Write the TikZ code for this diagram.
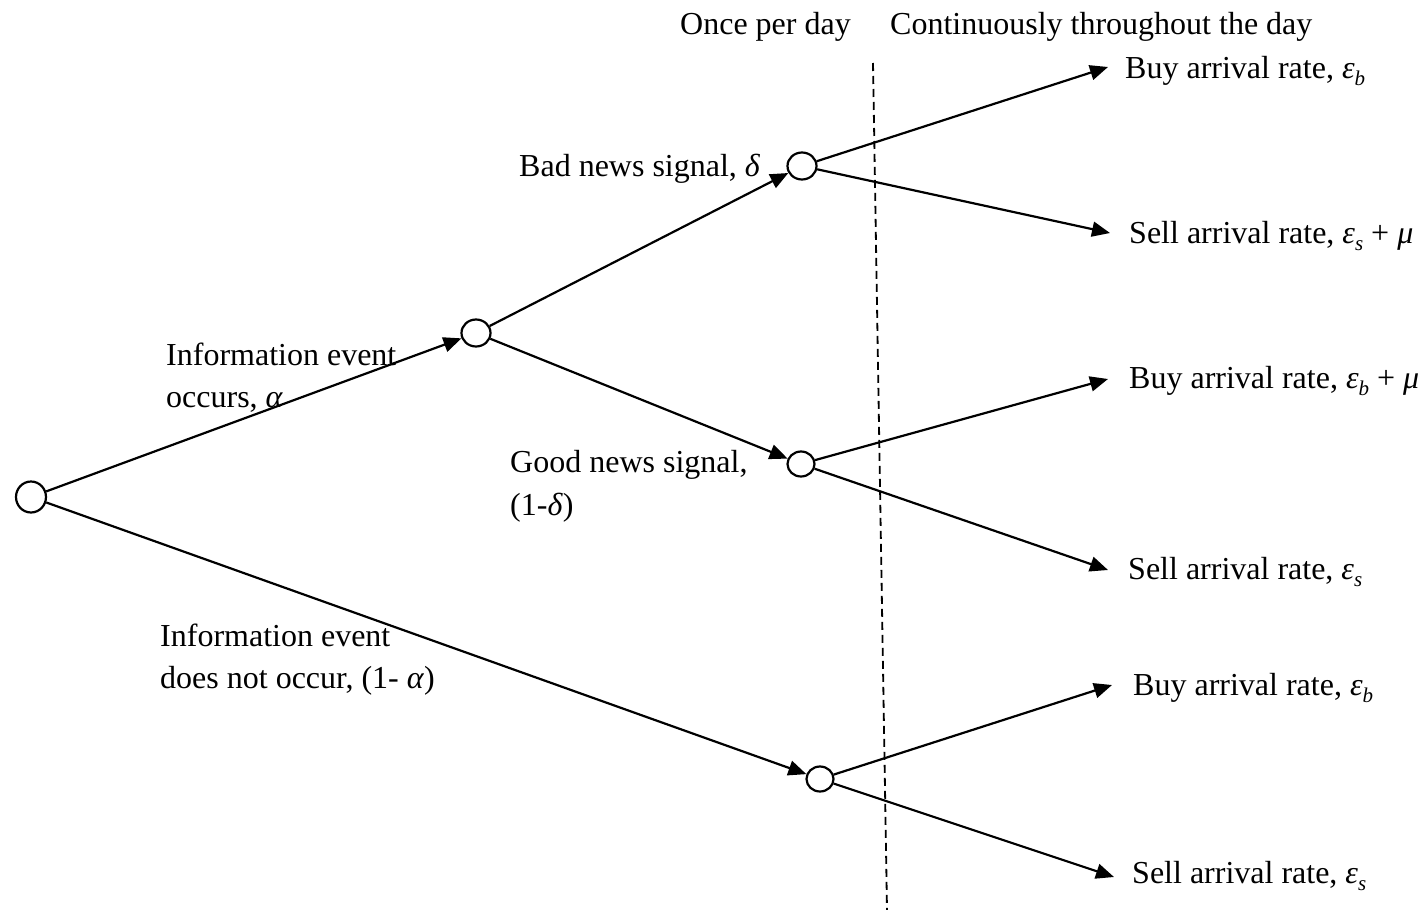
\documentclass[tikz,border=0pt]{standalone}
\usepackage{fontspec}
\setmainfont{Liberation Serif}
\usetikzlibrary{arrows.meta,shapes.geometric}
\newcommand\lsub[1]{\raisebox{-0.22em}{\fontsize{21}{21}\selectfont\itshape #1}}
\begin{document}
\begin{tikzpicture}[x=1pt,y=-1pt,
  every node/.style={font=\fontsize{32}{38}\selectfont},
  state/.style={draw,ellipse,line width=2.2pt,minimum width=29pt,minimum height=27pt,inner sep=0pt},
  lbl/.style={anchor=base west,inner sep=0pt},
  conn/.style={line width=2.2pt,-{Triangle[length=18pt,width=15pt]}},
  divider/.style={line width=1.8pt,dash pattern=on 8pt off 5pt}
  ]
\useasboundingbox (0,0) rectangle (1424,910);
% states
\node[state,minimum width=30pt,minimum height=31pt] (root) at (31,497) {};
\node[state] (n1) at (476,333) {};
\node[state] (bad) at (802,166) {};
\node[state,minimum width=27pt,minimum height=25pt] (good) at (801,464) {};
\node[state,minimum width=27pt,minimum height=25pt] (no) at (820,779) {};
% arrow tips near outcome labels
\coordinate (t1) at (1108,67);
\coordinate (t2) at (1110,233);
\coordinate (t3) at (1108,379);
\coordinate (t4) at (1108,570);
\coordinate (t5) at (1112,685);
\coordinate (t6) at (1114,877);
% divider
\coordinate (dtop) at (873,63);
\coordinate (dbot) at (887,910);
\draw[divider] (dtop) -- (dbot);
% connectors
\draw[conn] (root) -- (n1);
\draw[conn] (root) -- (no);
\draw[conn] (n1) -- (bad);
\draw[conn] (n1) -- (good);
\draw[conn] (bad) -- (t1);
\draw[conn] (bad) -- (t2);
\draw[conn] (good) -- (t3);
\draw[conn] (good) -- (t4);
\draw[conn] (no) -- (t5);
\draw[conn] (no) -- (t6);
% header labels
\node[lbl] (h1) at (680,34) {Once per day};
\node[lbl] (h2) at (890,34) {Continuously throughout the day};
% outcome labels
\node[lbl] (o1) at (1125,78) {Buy arrival rate, \textit{ε}\lsub{b}};
\node[lbl] (o2) at (1129,243) {Sell arrival rate, \textit{ε}\lsub{s} + \textit{μ}};
\node[lbl] (o3) at (1129,388) {Buy arrival rate, \textit{ε}\lsub{b} + \textit{μ}};
\node[lbl] (o4) at (1128,579) {Sell arrival rate, \textit{ε}\lsub{s}};
\node[lbl] (o5) at (1133,695) {Buy arrival rate, \textit{ε}\lsub{b}};
\node[lbl] (o6) at (1132,883) {Sell arrival rate, \textit{ε}\lsub{s}};
% branch labels
\node[lbl] (bn) at (519,176) {Bad news signal, \textit{δ}};
\node[lbl] (ie1) at (166,365) {Information event};
\node[lbl] (ie2) at (166,407) {occurs, \textit{α}};
\node[lbl] (gn1) at (510,472) {Good news signal,};
\node[lbl] (gn2) at (510,515) {(1-\textit{δ})};
\node[lbl] (ne1) at (160,646) {Information event};
\node[lbl] (ne2) at (160,688) {does not occur, (1- \textit{α})};
\end{tikzpicture}
\end{document}
